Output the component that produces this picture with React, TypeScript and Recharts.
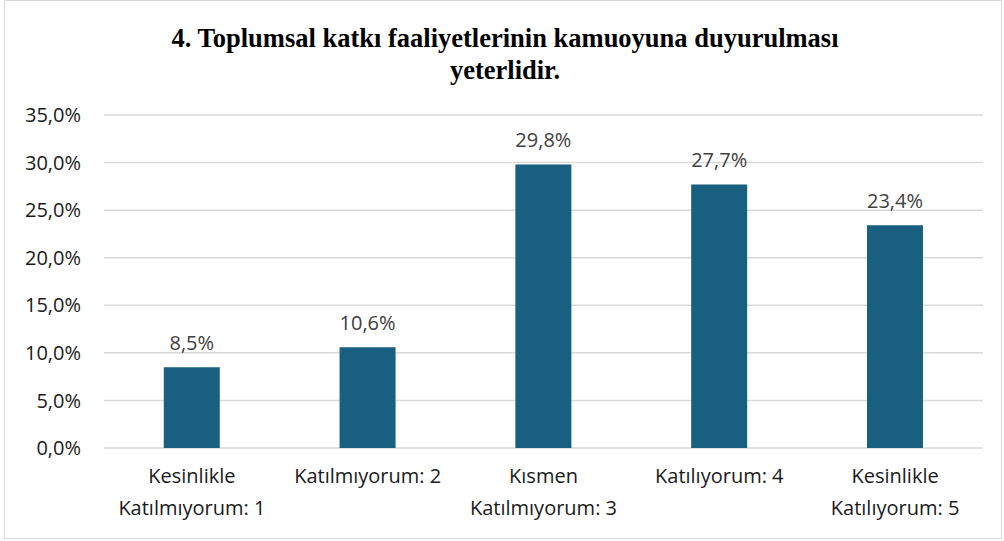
import { Bar, BarChart, CartesianGrid, LabelList, XAxis, YAxis } from 'recharts';

const CATEGORIES = [
  ['Kesinlikle', 'Katılmıyorum: 1'],
  ['Katılmıyorum: 2'],
  ['Kısmen', 'Katılmıyorum: 3'],
  ['Katılıyorum: 4'],
  ['Kesinlikle', 'Katılıyorum: 5'],
];
const VALUES = [8.5, 10.6, 29.8, 27.7, 23.4];
const Y_TICKS = [0, 5, 10, 15, 20, 25, 30, 35];
const TITLE = ['4. Toplumsal katkı faaliyetlerinin kamuoyuna duyurulması', 'yeterlidir.'];

const BAR_COLOR = '#185F80';
const FONT = '"Open Sans", sans-serif';

const fmt = (v: number) => `${v.toFixed(1).replace('.', ',')}%`;

const data = CATEGORIES.map((lines, i) => ({ name: lines.join(' '), idx: i, value: VALUES[i] }));

// two-line category labels, one tspan per line
function CategoryTick({ x, y, payload }: any) {
  const lines = CATEGORIES[payload.index] ?? [String(payload.value)];
  return (
    <text x={x} y={y} textAnchor="middle" fill="#1a1a1a" fontSize={20} fontFamily={FONT}>
      {lines.map((line, i) => (
        <tspan key={i} x={x} dy={i === 0 ? 27 : 32}>
          {line}
        </tspan>
      ))}
    </text>
  );
}

export default function App() {
  return (
    <div style={{ position: 'absolute', left: 0, top: 0, width: 1004, height: 541, background: '#fff' }}>
      <div
        style={{
          position: 'absolute',
          left: 4,
          top: 0,
          width: 996,
          height: 537,
          border: '1px solid #D9D9D9',
        }}
      />
      <div
        style={{
          position: 'absolute',
          left: 0,
          top: 22,
          width: 1010,
          textAlign: 'center',
          fontFamily: '"Liberation Serif", serif',
          fontWeight: 'bold',
          fontSize: 26.5,
          lineHeight: '32px',
          color: '#000',
        }}
      >
        {TITLE.map((t, i) => (
          <div key={i}>{t}</div>
        ))}
      </div>
      <div style={{ position: 'absolute', left: 0, top: 0 }}>
        <BarChart
          width={1004}
          height={541}
          data={data}
          margin={{ top: 115, right: 21, bottom: 0, left: 4 }}
          barCategoryGap="34%"
        >
          <CartesianGrid vertical={false} stroke="#D9D9D9" strokeWidth={1.5} />
          <XAxis
            dataKey="name"
            axisLine={false}
            tickLine={false}
            interval={0}
            height={93}
            tick={<CategoryTick />}
          />
          <YAxis
            width={100}
            domain={[0, 35]}
            ticks={Y_TICKS}
            axisLine={false}
            tickLine={false}
            tickMargin={17}
            tickFormatter={fmt}
            tick={{ fontSize: 20, fill: '#1a1a1a', fontFamily: FONT }}
          />
          <Bar dataKey="value" fill={BAR_COLOR} isAnimationActive={false}>
            <LabelList
              dataKey="value"
              position="top"
              offset={17}
              formatter={(v: any) => fmt(Number(v))}
              style={{ fontSize: 20, fill: '#404040', fontFamily: FONT }}
            />
          </Bar>
        </BarChart>
      </div>
    </div>
  );
}
